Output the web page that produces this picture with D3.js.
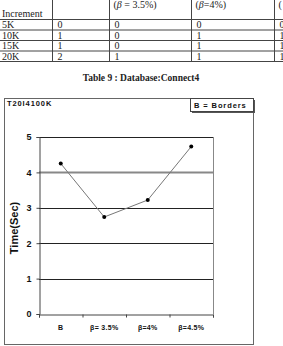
<!DOCTYPE html>
<html>
<head>
<meta charset="utf-8">
<script src="https://cdn.jsdelivr.net/npm/d3@7"></script>
<style>
  body { margin: 0; background: #fff; }
  svg { display: block; }
</style>
</head>
<body>
<svg id="page" width="283" height="346"></svg>
<script>
// table data (top of page, cut off)
var tableHeads = [null, null, ["(", "β", " = 3.5%)"], ["(", "β", "=4%)"], ["(", "", ""]];
var tableRows = ["5K", "10K", "15K", "20K"];
var colBorders = [0, 1, 1, 2];
var colBeta35 = [0, 0, 0, 1];
var colBeta4 = [0, 1, 1, 1];
var colBeta45 = [0, 1, 1, 1];
var tableCaption = "Table 9 : Database:Connect4";

// chart data
var chartTitle = "T20I4100K";
var legendText = "B = Borders";
var categories = ["B", "β= 3.5%", "β=4%", "β=4.5%"];
var times = [4.25, 2.74, 3.22, 4.73];
var yTicks = [0, 1, 2, 3, 4, 5];

var svg = d3.select('#page');

// ---- TABLE ----
var tbl = svg.append('g').attr('font-family', 'Liberation Serif, Times New Roman, serif')
  .attr('font-size', 10).attr('fill', '#222');
var colX = [0, 52.5, 109.5, 191.5, 274.5];
var rowY = d3.scaleLinear().domain([0, 4]).range([19.5, 61.5]);
var cols = [tableRows, colBorders, colBeta35, colBeta4, colBeta45];

// vertical rules
colX.slice(1).forEach(function(x) {
  tbl.append('line').attr('x1', x).attr('x2', x).attr('y1', 0).attr('y2', rowY(4))
    .attr('stroke', '#444');
});
// horizontal rules
d3.range(5).forEach(function(i) {
  tbl.append('line').attr('x1', 0).attr('x2', 283).attr('y1', rowY(i)).attr('y2', rowY(i))
    .attr('stroke', '#444');
});
tbl.append('text').attr('x', 2).attr('y', 17).text('Increment');
tableHeads.forEach(function(h, j) {
  if (!h) return;
  var t = tbl.append('text').attr('x', colX[j] + 4).attr('y', 8);
  t.append('tspan').text(h[0]);
  t.append('tspan').attr('font-style', 'italic').text(h[1]);
  t.append('tspan').text(h[2]);
});
cols.forEach(function(col, j) {
  tbl.selectAll(null).data(col).enter().append('text')
    .attr('x', colX[j] + (j == 0 ? 2 : 5))
    .attr('y', function(d, i) { return rowY(i) + 8.5; })
    .text(function(d) { return d; });
});
svg.append('text').attr('x', 141).attr('y', 81).attr('text-anchor', 'middle')
  .attr('font-family', 'Liberation Serif, Times New Roman, serif')
  .attr('font-weight', 'bold').attr('font-size', 9.5).attr('fill', '#222').text(tableCaption);

// ---- CHART ----
var chart = svg.append('g').attr('font-family', 'Liberation Sans, Arial, sans-serif')
  .attr('font-weight', 'bold').attr('fill', '#111');

chart.append('rect').attr('x', 4.5).attr('y', 98.5).attr('width', 249).attr('height', 246)
  .attr('fill', 'none').attr('stroke', '#666');

chart.append('text').attr('x', 7).attr('y', 106).attr('font-size', 7.5)
  .attr('letter-spacing', 0.9).text(chartTitle);

// legend box with shadow
chart.append('rect').attr('x', 192).attr('y', 100).attr('width', 63).attr('height', 13)
  .attr('fill', '#555');
chart.append('rect').attr('x', 190.5).attr('y', 98.5).attr('width', 63).attr('height', 13)
  .attr('fill', '#fff').attr('stroke', '#444');
chart.append('text').attr('x', 194).attr('y', 108).attr('font-size', 7.5)
  .attr('letter-spacing', 0.9).text(legendText);

var x = d3.scaleBand().domain(categories).range([39, 213]);
var xEdge = d3.scaleLinear().domain([0, 4]).range([39, 213]);
var y = d3.scaleLinear().domain([0, 5]).range([314, 137]);

// gridlines
chart.append('g').selectAll('line').data(yTicks.slice(1)).enter().append('line')
  .attr('x1', 39).attr('x2', 213)
  .attr('y1', function(d) { return Math.round(y(d)) + 0.5; })
  .attr('y2', function(d) { return Math.round(y(d)) + 0.5; })
  .attr('stroke', function(d) { return d == 4 ? '#888' : '#222'; })
  .attr('stroke-width', function(d) { return d == 4 ? 2 : 1; });
chart.append('line').attr('x1', 213.5).attr('x2', 213.5).attr('y1', y(5)).attr('y2', y(0))
  .attr('stroke', '#888');

// y axis
var yAxis = chart.append('g').attr('transform', 'translate(39.5,0)')
  .call(d3.axisLeft(y).tickValues(yTicks).tickSize(3).tickPadding(5).tickFormat(d3.format('d')));
yAxis.select('.domain').attr('stroke', '#444');
yAxis.selectAll('line').attr('stroke', '#444');
yAxis.selectAll('text').attr('font-size', 9).attr('font-weight', 'bold').attr('fill', '#111')
  .attr('font-family', 'Liberation Sans, Arial, sans-serif');

// x axis: ticks on category edges, labels centered
var xAxis = chart.append('g').attr('transform', 'translate(0,314.5)')
  .call(d3.axisBottom(xEdge).tickValues([0, 1, 2, 3, 4]).tickSize(3).tickFormat(''));
xAxis.select('.domain').attr('stroke', '#444');
xAxis.selectAll('line').attr('stroke', '#444');
var xLab = chart.append('g').attr('transform', 'translate(0,314.5)')
  .call(d3.axisBottom(x).tickSize(0).tickPadding(11));
xLab.select('.domain').remove();
xLab.selectAll('text').attr('font-size', 7).attr('font-weight', 'bold').attr('fill', '#111')
  .attr('letter-spacing', 0.3)
  .attr('font-family', 'Liberation Sans, Arial, sans-serif');

chart.append('text').attr('transform', 'translate(18,228) rotate(-90)')
  .attr('text-anchor', 'middle').attr('font-size', 11).text('Time(Sec)');

// series line + markers
var line = d3.line()
  .x(function(d, i) { return x(categories[i]) + x.bandwidth() / 2; })
  .y(function(d) { return y(d); });
chart.append('path').datum(times).attr('d', line)
  .attr('fill', 'none').attr('stroke', '#777').attr('stroke-width', 1);
chart.selectAll('circle.pt').data(times).enter().append('circle')
  .attr('class', 'pt')
  .attr('cx', function(d, i) { return x(categories[i]) + x.bandwidth() / 2; })
  .attr('cy', function(d) { return y(d); })
  .attr('r', 2).attr('fill', '#000');
</script>
</body>
</html>
